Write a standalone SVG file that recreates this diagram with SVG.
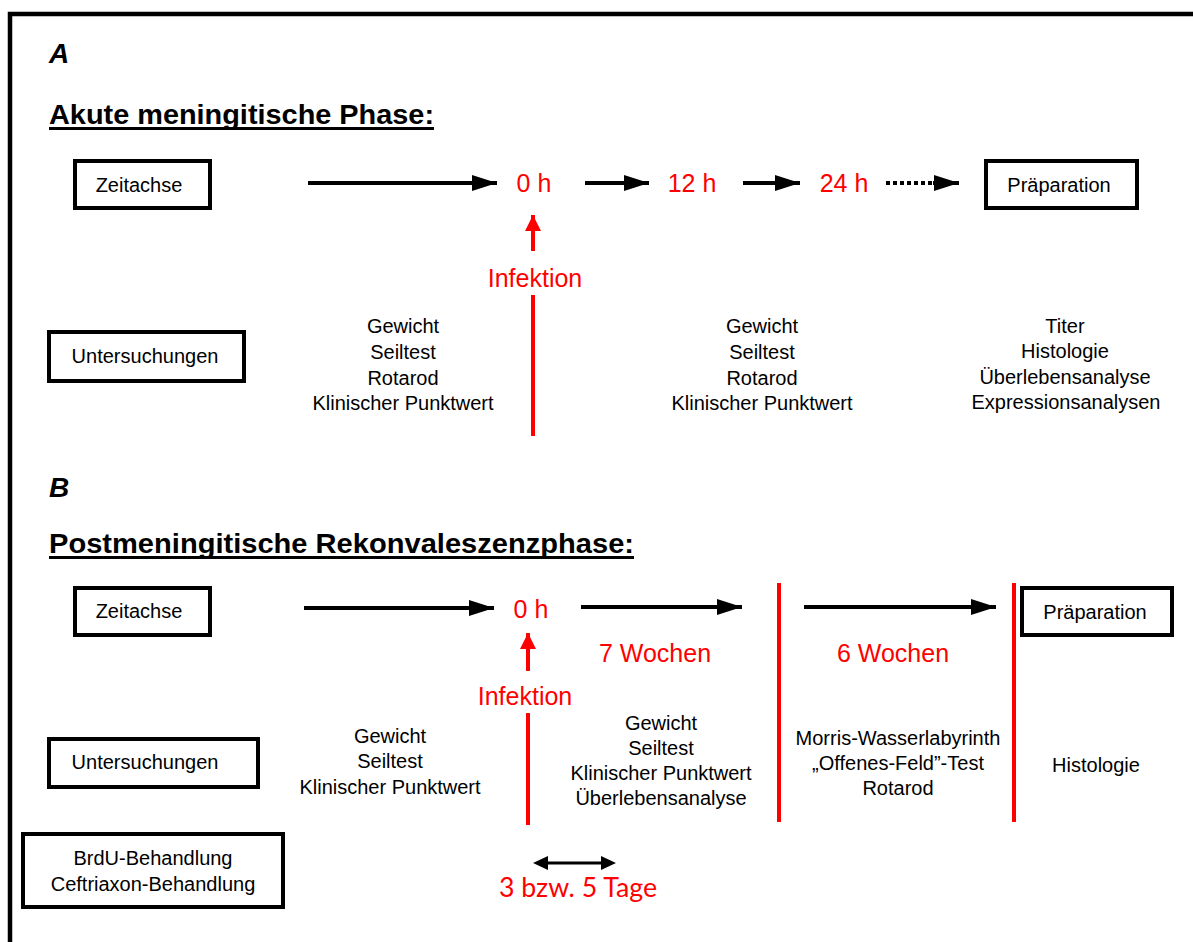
<svg xmlns="http://www.w3.org/2000/svg" width="1193" height="942" viewBox="0 0 1193 942">
<defs>
<style>
text{font-family:"Liberation Sans",Arial,sans-serif;fill:#000}
.t{font-size:20px;text-anchor:middle}
.r{fill:#ff0000;font-size:25px;text-anchor:middle}
.box{fill:#fff;stroke:#000;stroke-width:4}
.ax{stroke:#000;stroke-width:4;fill:none}
.rl{stroke:#ff0000;stroke-width:4;fill:none}
.h{font-weight:bold;font-size:28px}
.lab{font-weight:bold;font-style:italic;font-size:28px}
</style>
<marker id="ah" markerUnits="userSpaceOnUse" markerWidth="26" markerHeight="18" refX="25" refY="9" orient="auto"><path d="M0,1 L25,9 L0,17 z" fill="#000"/></marker>
<marker id="ahs" markerUnits="userSpaceOnUse" markerWidth="16" markerHeight="16" refX="15" refY="8" orient="auto"><path d="M0,1 L15,8 L0,15 z" fill="#000"/></marker>
<marker id="ahr" markerUnits="userSpaceOnUse" markerWidth="18" markerHeight="18" refX="16" refY="9" orient="auto"><path d="M0,1 L16,9 L0,17 z" fill="#ff0000"/></marker>
</defs>
<rect width="1193" height="942" fill="#fff"/>
<path d="M10,942 V14 H1193" stroke="#000" stroke-width="4.5" fill="none"/>

<g id="sectionA">
<text class="lab" x="49" y="63">A</text>
<text class="h" x="49" y="124" textLength="385" lengthAdjust="spacingAndGlyphs">Akute meningitische Phase:</text>
<rect x="49" y="127" width="385" height="3" fill="#000"/>
</g>

<g id="connectorsA">
<line class="ax" x1="308" y1="183" x2="497" y2="183" marker-end="url(#ah)"/>
<line class="ax" x1="585" y1="183" x2="649" y2="183" marker-end="url(#ah)"/>
<line class="ax" x1="743" y1="183" x2="800" y2="183" marker-end="url(#ah)"/>
<line class="ax" x1="886" y1="183" x2="935" y2="183" stroke-dasharray="4 3"/>
<line class="ax" x1="933" y1="183" x2="959" y2="183" marker-end="url(#ah)"/>
<line class="rl" x1="533" y1="251" x2="533" y2="215" marker-end="url(#ahr)"/>
<line class="rl" x1="533" y1="295" x2="533" y2="436"/>
</g>

<g id="zeitachseA"><rect class="box" x="75" y="161" width="135" height="47"/><text class="t" x="139" y="192">Zeitachse</text></g>
<g id="t0A"><text class="r" x="534" y="192">0 h</text></g>
<g id="t12A"><text class="r" x="692" y="192">12 h</text></g>
<g id="t24A"><text class="r" x="844" y="192">24 h</text></g>
<g id="praepA"><rect class="box" x="986" y="161" width="151" height="47"/><text class="t" x="1059" y="192">Präparation</text></g>
<g id="infektionA"><text class="r" x="535" y="287">Infektion</text></g>
<g id="untersA"><rect class="box" x="49" y="332" width="195" height="49"/><text class="t" x="145" y="363">Untersuchungen</text></g>
<g id="colA1"><text class="t" x="403" y="333">Gewicht</text><text class="t" x="403" y="359">Seiltest</text><text class="t" x="403" y="385">Rotarod</text><text class="t" x="403" y="410">Klinischer Punktwert</text></g>
<g id="colA2"><text class="t" x="762" y="333">Gewicht</text><text class="t" x="762" y="359">Seiltest</text><text class="t" x="762" y="385">Rotarod</text><text class="t" x="762" y="410">Klinischer Punktwert</text></g>
<g id="colA3"><text class="t" x="1065" y="333">Titer</text><text class="t" x="1065" y="358">Histologie</text><text class="t" x="1065" y="384">Überlebensanalyse</text><text class="t" x="1066" y="409">Expressionsanalysen</text></g>

<g id="sectionB">
<text class="lab" x="49" y="497">B</text>
<text class="h" x="49" y="553" textLength="585" lengthAdjust="spacingAndGlyphs">Postmeningitische Rekonvaleszenzphase:</text>
<rect x="49" y="556" width="585" height="3" fill="#000"/>
</g>

<g id="connectorsB">
<line class="ax" x1="304" y1="608" x2="494" y2="608" marker-end="url(#ah)"/>
<line class="ax" x1="581" y1="607" x2="742" y2="607" marker-end="url(#ah)"/>
<line class="ax" x1="804" y1="607" x2="996" y2="607" marker-end="url(#ah)"/>
<line class="rl" x1="779" y1="583" x2="779" y2="822"/>
<line class="rl" x1="1014" y1="583" x2="1014" y2="822"/>
<line class="rl" x1="528" y1="671" x2="528" y2="633" marker-end="url(#ahr)"/>
<line class="rl" x1="528" y1="713" x2="528" y2="825"/>
<line stroke="#000" stroke-width="3" x1="548" y1="863" x2="602" y2="863"/>
<path d="M533,863 L548,856 L548,870 z M616,863 L601,856 L601,870 z" fill="#000"/>
</g>

<g id="zeitachseB"><rect class="box" x="75" y="588" width="135" height="47"/><text class="t" x="139" y="618">Zeitachse</text></g>
<g id="t0B"><text class="r" x="531" y="618">0 h</text></g>
<g id="praepB"><rect class="box" x="1022" y="588" width="150" height="47"/><text class="t" x="1095" y="619">Präparation</text></g>
<g id="w7"><text class="r" x="655" y="662">7 Wochen</text></g>
<g id="w6"><text class="r" x="893" y="662">6 Wochen</text></g>
<g id="infektionB"><text class="r" x="525" y="705">Infektion</text></g>
<g id="untersB"><rect class="box" x="49" y="739" width="209" height="48"/><text class="t" x="145" y="769">Untersuchungen</text></g>
<g id="colB1"><text class="t" x="390" y="743">Gewicht</text><text class="t" x="390" y="768">Seiltest</text><text class="t" x="390" y="794">Klinischer Punktwert</text></g>
<g id="colB2"><text class="t" x="661" y="730">Gewicht</text><text class="t" x="661" y="755">Seiltest</text><text class="t" x="661" y="780">Klinischer Punktwert</text><text class="t" x="661" y="805">Überlebensanalyse</text></g>
<g id="colB3"><text class="t" x="898" y="745">Morris-Wasserlabyrinth</text><text class="t" x="898" y="770">„Offenes-Feld”-Test</text><text class="t" x="898" y="795">Rotarod</text></g>
<g id="colB4"><text class="t" x="1096" y="772">Histologie</text></g>
<g id="brdu"><rect class="box" x="23" y="834" width="260" height="73"/><text class="t" x="153" y="865">BrdU-Behandlung</text><text class="t" x="153" y="891">Ceftriaxon-Behandlung</text></g>
<g id="tage"><text x="578" y="897" style="font-family:Lato,'Open Sans',sans-serif;font-size:27px;fill:#ff0000;text-anchor:middle" textLength="158" lengthAdjust="spacingAndGlyphs">3 bzw. 5 Tage</text></g>
</svg>
